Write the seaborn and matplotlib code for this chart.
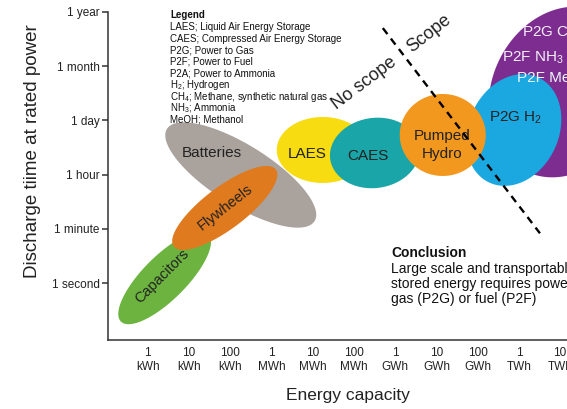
import numpy as np
import matplotlib
matplotlib.use("Agg")
import matplotlib.pyplot as plt
import seaborn as sns

# axis categories
x_labels = ["1\nkWh", "10\nkWh", "100\nkWh", "1\nMWh", "10\nMWh", "100\nMWh",
            "1\nGWh", "10\nGWh", "100\nGWh", "1\nTWh", "10\nTWh"]
y_labels = ["1 second", "1 minute", "1 hour", "1 day", "1 month", "1 year"]

# technologies: centre (decades of kWh, time steps), half-axes in decades, tilt
tech_names = ["Capacitors", "Batteries", "Flywheels", "LAES", "CAES",
              "P2G/P2F", "P2G H2", "Pumped Hydro"]
tech_x = [0.41, 2.255, 1.867, 4.243, 5.504, 10.087, 8.875, 7.153]
tech_y = [0.10, 1.994, 1.387, 2.455, 2.40, 3.523, 2.823, 2.731]
tech_a = [1.50, 2.11, 1.55, 1.115, 1.09, 2.134, 1.406, 1.043]
tech_b = [0.53, 0.727, 0.51, 0.80, 0.85, 1.746, 1.091, 0.994]
tech_angle = [45, -32, 37, 0, 8, 65, 65, 0]
tech_colors = ["#6cb43f", "#aaa29d", "#e07a1e", "#f7dc11", "#1aa5a8",
               "#7d2d8f", "#1ba7e0", "#f3981e"]

# scope boundary
scope_x = [5.70, 9.51]
scope_y = [4.70, 0.92]

legend_lines = ["LAES; Liquid Air Energy Storage",
                "CAES; Compressed Air Energy Storage",
                "P2G; Power to Gas",
                "P2F; Power to Fuel",
                "P2A; Power to Ammonia",
                "H$_2$; Hydrogen",
                "CH$_4$; Methane, synthetic natural gas",
                "NH$_3$; Ammonia",
                "MeOH; Methanol"]

sns.set_style("white")
plt.rcParams['font.family'] = ['Liberation Sans', 'DejaVu Sans']
plt.rcParams['mathtext.fontset'] = 'custom'
plt.rcParams['mathtext.rm'] = 'Liberation Sans'
plt.rcParams['mathtext.it'] = 'Liberation Sans:italic'

fig = plt.figure(figsize=(5.67, 4.09), dpi=100)
ax = fig.add_axes([108/567, 69/409, 459/567, 340/409])
ax.set_xlim(-0.964, 10.166)
ax.set_ylim(-1.045, 5.217)

# ratio between one x unit and one y unit on screen
ratio = (459 / (10.166 + 0.964)) / (340 / (5.217 + 1.045))

zorders = [1, 1, 2, 1, 2, 1, 2, 3]
t = np.linspace(0, 2 * np.pi, 240)
for i in range(len(tech_names)):
    th = np.deg2rad(tech_angle[i])
    ex = tech_a[i] * np.cos(t) * np.cos(th) - tech_b[i] * np.sin(t) * np.sin(th)
    ey = tech_a[i] * np.cos(t) * np.sin(th) + tech_b[i] * np.sin(t) * np.cos(th)
    ax.fill(tech_x[i] + ex, tech_y[i] + ey * ratio, color=tech_colors[i],
            lw=0, zorder=zorders[i])

# scope line
sns.lineplot(x=scope_x, y=scope_y, color='black', lw=1.7,
             linestyle=(0, (3.2, 2.4)), ax=ax, zorder=10, legend=False)

dark = '#222222'
ax.text(1.552, 2.396, "Batteries", fontsize=11, color=dark, ha='center', va='center', zorder=5)
ax.text(3.855, 2.381, "LAES", fontsize=11, color=dark, ha='center', va='center', zorder=5)
ax.text(5.335, 2.344, "CAES", fontsize=11, color=dark, ha='center', va='center', zorder=5)
ax.text(7.129, 2.545, "Pumped\nHydro", fontsize=11, color=dark, ha='center', va='center',
        linespacing=1.35, zorder=5)
ax.text(8.923, 3.044, "P2G H$_2$", fontsize=11, color=dark, ha='center', va='center', zorder=5)
ax.text(1.867, 1.405, "Flywheels", fontsize=10.5, color=dark, ha='center', va='center',
        rotation=38, rotation_mode='anchor', zorder=5)
ax.text(0.339, 0.134, "Capacitors", fontsize=10.5, color=dark, ha='center', va='center',
        rotation=45, rotation_mode='anchor', zorder=5)
ax.text(9.069, 4.61, "P2G CH$_4$", fontsize=11, color='#f3eef8', ha='left', va='center', zorder=5)
ax.text(8.584, 4.15, "P2F NH$_3$", fontsize=11, color='#f3eef8', ha='left', va='center', zorder=5)
ax.text(8.948, 3.78, "P2F MeOH", fontsize=11, color='#eef4fb', ha='left', va='center', zorder=5)
ax.text(5.262, 3.689, "No scope", fontsize=13, color=dark, ha='center', va='center',
        rotation=37, rotation_mode='anchor', zorder=5)
ax.text(6.814, 4.59, "Scope", fontsize=13, color=dark, ha='center', va='center',
        rotation=38, rotation_mode='anchor', zorder=5)

# legend block
fig.text(170/567, 1 - 18.5/409, "Legend", fontsize=7, fontweight='bold', color='#111111',
         va='baseline')
for k, line in enumerate(legend_lines):
    fig.text(170/567, 1 - (30.1 + 11.6 * k)/409, line, fontsize=7, color='#111111',
             va='baseline')

# conclusion block
fig.text(391/567, 1 - 253/409, "Conclusion", fontsize=10, fontweight='bold', color='#111111', va='center')
fig.text(391/567, 1 - 262/409,
         "Large scale and transportable\nstored energy requires power to\ngas (P2G) or fuel (P2F)",
         fontsize=10, color='#111111', va='top', linespacing=1.1)

# axes
ax.set_xticks(range(len(x_labels)))
ax.set_xticklabels(x_labels, fontsize=8.5, color=dark)
ax.set_yticks(range(len(y_labels)))
ax.set_yticklabels(y_labels, fontsize=8.5, color=dark)
ax.tick_params(axis='x', direction='in', length=4.5, width=1.1, color='#333333', pad=5)
ax.tick_params(axis='y', direction='out', length=4.5, width=1.1, color='#333333', pad=1.5, left=True)
for s in ['top', 'right']:
    ax.spines[s].set_visible(False)
for s in ['left', 'bottom']:
    ax.spines[s].set_color('#333333')
    ax.spines[s].set_linewidth(1.1)
ax.spines['left'].set_bounds(-1.045, 5)

ax.set_xlabel("Energy capacity", fontsize=12.5, color=dark)
ax.set_ylabel("Discharge tiime at rated power", fontsize=13.5, color=dark)
ax.xaxis.set_label_coords(0.523, -0.14)
ax.yaxis.set_label_coords(-0.145, 0.556)
ax.grid(False)

fig.savefig("out.png", dpi=100)
